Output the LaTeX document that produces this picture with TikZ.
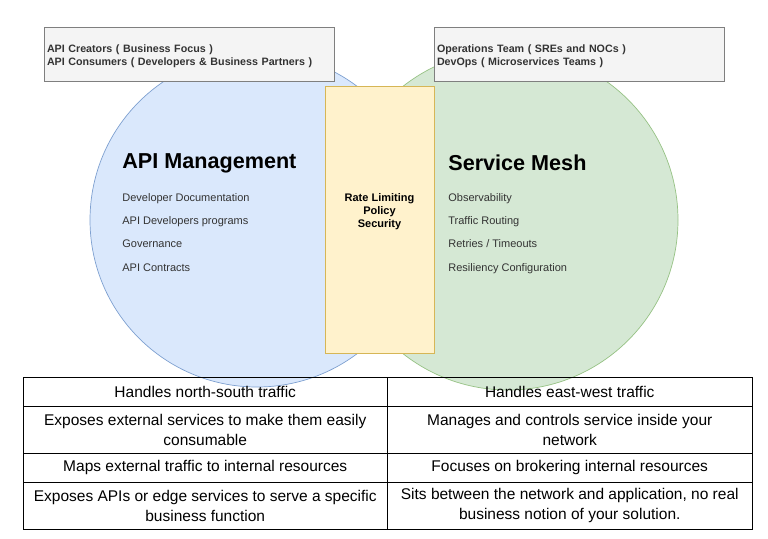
\documentclass[tikz,border=0pt]{standalone}
\usepackage{fontspec}
\setmainfont{Liberation Sans}
\usetikzlibrary{positioning}

\definecolor{apiblue}{HTML}{DAE8FC}
\definecolor{apiblueline}{HTML}{7EA0D0}
\definecolor{meshgreen}{HTML}{D5E8D4}
\definecolor{meshgreenline}{HTML}{96C284}
\definecolor{sharedyellow}{HTML}{FFF2CC}
\definecolor{sharedyellowline}{HTML}{D6B656}
\definecolor{teamgray}{HTML}{F4F4F4}
\definecolor{teamgrayline}{HTML}{7F7F7F}
\definecolor{itemgray}{HTML}{333333}

\begin{document}
\begin{tikzpicture}[
        x = 1pt, y = -1pt, % one unit per pixel, y grows downwards
        node distance = 23.3pt, % spacing of the list items
        line width = 0.8pt, % line style
        inner sep = 0pt
      ]

      \tikzstyle{bubble}=[circle, line width=0.7pt]
      \tikzstyle{team}=[rectangle, draw=teamgrayline, fill=teamgray, minimum width=290pt, minimum height=54pt]
      \tikzstyle{teamtext}=[text width=284pt, align=left, text=itemgray, font=\fontsize{10.7}{13}\selectfont\bfseries]
      \tikzstyle{title}=[anchor=west, font=\fontsize{21.6}{25}\selectfont\bfseries]
      \tikzstyle{item}=[anchor=west, text=itemgray, text height=8pt, text depth=2.5pt, font=\fontsize{11}{13}\selectfont]
      \tikzstyle{shared}=[rectangle, draw=sharedyellowline, fill=sharedyellow, minimum width=109pt, minimum height=267pt]
      \tikzstyle{cell}=[rectangle, draw=black, minimum width=364.5pt, align=center, font=\fontsize{15.5}{20}\selectfont]
      \tikzstyle{short}=[minimum height=29pt]
      \tikzstyle{tall}=[minimum height=47pt]

      \useasboundingbox (0,0) rectangle (768,538);

      % the two circles
      \node[bubble, fill=apiblue, draw=apiblueline, minimum size=334pt] (apim) at (257,220) {};
      \node[bubble, fill=meshgreen, draw=meshgreenline, minimum size=340pt] (mesh) at (508,220) {};

      % who cares about it
      \node[team] (apiteams) at (189,54) {};
      \node[teamtext] (apiteamstext) at ([yshift=-2.5pt]apiteams.center) {API Creators ( Business Focus )\\API Consumers ( Developers \& Business Partners )};
      \node[team] (meshteams) at (579,54) {};
      \node[teamtext] (meshteamstext) at ([yshift=-2.5pt]meshteams.center) {Operations Team ( SREs and NOCs )\\DevOps ( Microservices Teams )};

      % overlap
      \node[shared] (shared) at (379.5,219.5) {};
      \node[align=center, font=\fontsize{11}{13}\selectfont\bfseries] (sharedtext) at (379.5,211.5) {Rate Limiting\\Policy\\Security};

      \node[title] (apimtitle) at (122,163) {API Management};
      \node[item] (devdocs) at (122,198.5) {Developer Documentation};
      \node (devprog) [below=of devdocs.west, item] {API Developers programs};
      \node (governance) [below=of devprog.west, item] {Governance};
      \node (contracts) [below=of governance.west, item] {API Contracts};

      \node[title] (meshtitle) at (448,163) {Service Mesh};
      \node[item] (observe) at (448,198.5) {Observability};
      \node (routing) [below=of observe.west, item] {Traffic Routing};
      \node (retries) [below=of routing.west, item] {Retries / Timeouts};
      \node (resiliency) [below=of retries.west, item] {Resiliency Configuration};

      % comparison table
      \node[cell, short] (northsouth) at (205.25,391.5) {Handles north-south traffic};
      \node[cell, short] (eastwest) [right of=northsouth, node distance=364.5pt] {Handles east-west traffic};
      \node[cell, tall] (exposes) [below of=northsouth, node distance=38pt] {Exposes external services to make them easily\\consumable};
      \node[cell, tall] (manages) [right of=exposes, node distance=364.5pt] {Manages and controls service inside your\\network};
      \node[cell, short] (maps) [below of=exposes, node distance=38pt] {Maps external traffic to internal resources};
      \node[cell, short] (brokers) [right of=maps, node distance=364.5pt] {Focuses on brokering internal resources};
      \node[cell, tall] (edge) [below of=maps, node distance=38pt] {Exposes APIs or edge services to serve a specific\\business function};
      \node[cell, tall] (between) [right of=edge, node distance=364.5pt] {Sits between the network and application, no real\\business notion of your solution.};

    \end{tikzpicture}
\end{document}
